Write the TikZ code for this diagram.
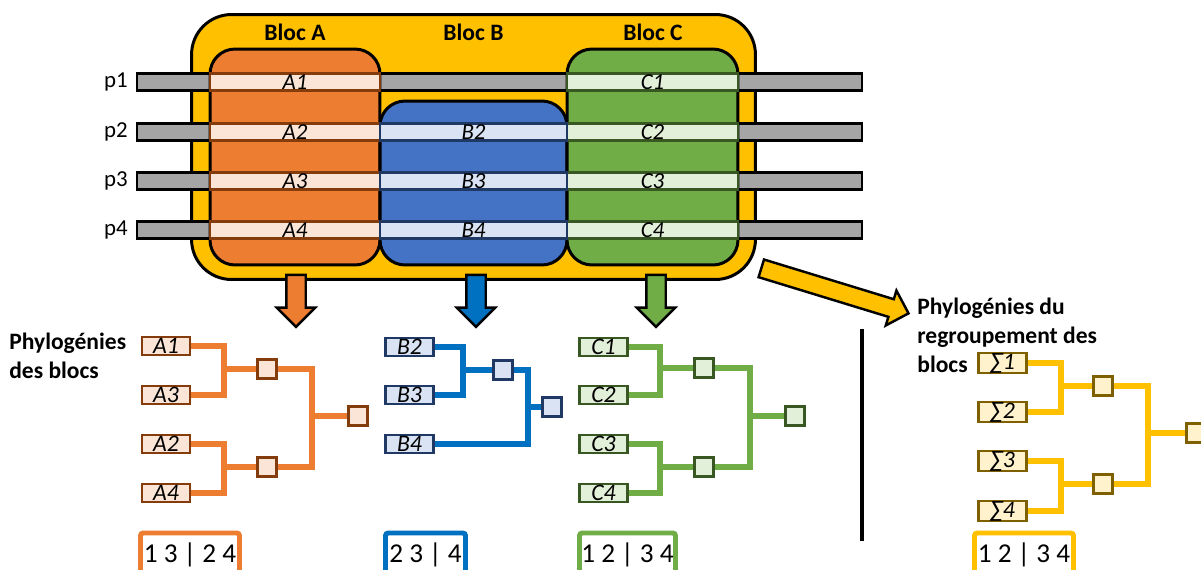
\documentclass[tikz,border=0pt]{standalone}
\usepackage{fontspec}
\setmainfont{Carlito}
\usepackage{tikz}
\usetikzlibrary{positioning,shapes.arrows}
\definecolor{yeS}{HTML}{FFC000}
\definecolor{yeL}{HTML}{FFF2CC}
\definecolor{yeD}{HTML}{7F6000}
\definecolor{orA}{HTML}{ED7D31}
\definecolor{orL}{HTML}{FBE5D6}
\definecolor{orD}{HTML}{843C0C}
\definecolor{blB}{HTML}{4472C4}
\definecolor{blT}{HTML}{0070C0}
\definecolor{blL}{HTML}{DAE3F3}
\definecolor{blD}{HTML}{203864}
\definecolor{grC}{HTML}{70AD47}
\definecolor{grL}{HTML}{E2F0D9}
\definecolor{grD}{HTML}{385723}
\definecolor{barG}{HTML}{A5A5A5}
\newcommand\lblfont{\fontsize{13.4}{16.5}\selectfont\bfseries}
\newcommand\cellfont{\fontsize{13}{13}\selectfont\itshape}
\newcommand\leaffont{\fontsize{13.5}{13.5}\selectfont\itshape}
\newcommand\numfont{\fontsize{15.5}{18}\selectfont}
\tikzset{
  outer/.style={draw=black,line width=1.7pt,fill=yeS,rounded corners=8mm,minimum width=112.8mm,minimum height=53mm,inner sep=0pt},
  bar/.style={draw=black,line width=1.2pt,fill=barG,minimum width=145.2mm,minimum height=3.4mm,inner sep=0pt},
  bloc/.style={draw=black,line width=1.7pt,fill=#1,rounded corners=5mm,minimum width=34mm,minimum height=43.2mm,inner sep=0pt},
  cell/.style 2 args={draw=#1,fill=#2,line width=1.2pt,minimum width=34mm,minimum height=3.4mm,inner sep=0pt,font=\cellfont},
  leaf/.style 2 args={draw=#1,fill=#2,line width=1.6pt,minimum width=9.6mm,minimum height=3.6mm,inner sep=0pt,font=\leaffont},
  knot/.style 2 args={draw=#1,fill=#2,line width=1.5pt,minimum size=3.8mm,inner sep=0pt},
  branch/.style={draw=#1,line width=3pt},
  result/.style={draw=#1,line width=2.8pt,fill=white,rounded corners=1.5pt,minimum height=8.8mm,inner sep=0pt,font=\numfont},
  darrow/.style={single arrow,draw=black,line width=1.4pt,fill=#1,minimum height=10.4mm,inner xsep=0pt,inner ysep=1.7mm,single arrow head extend=1.9mm,single arrow tip angle=90},
  lbl/.style={font=\lblfont,inner sep=0pt},
  plbl/.style={font=\fontsize{13}{14}\selectfont,inner sep=0pt},
  ttl/.style={font=\lblfont,inner sep=0pt,align=left,anchor=north west},
}
\begin{document}
\begin{tikzpicture}[x=0.02cm,y=-0.02cm]
  \useasboundingbox (0,0) rectangle (1201,569);
  % the three blocks on the alignment
  \node[outer] (grp) at (473.5,147) {};
  \foreach \i/\y in {1/82,2/132,3/181,4/230} {
    \node[bar] (bar\i) at (499.5,\y) {};
    \node[plbl,left=1.5mm of bar\i] (p\i) {p\i};
  }
  \node[bloc=orA] (blkA) at (295,157) {};
  \node[bloc=blB,minimum width=37.4mm,minimum height=32.8mm] (blkB) at (473.5,183) {};
  \node[bloc=grC,minimum width=34.2mm] (blkC) at (652.5,157) {};
  \foreach \i/\y in {1/82,2/132,3/181,4/230} {
    \node[cell={orD}{orL}] (A\i) at (295,\y) {A\i};
    \node[cell={grD}{grL},minimum width=34.2mm] (C\i) at (652.5,\y) {C\i};
  }
  \foreach \i/\y in {2/132,3/181,4/230}
    \node[cell={blD}{blL},minimum width=37.4mm] (B\i) at (473.5,\y) {B\i};
  \node[lbl] (hA) at (295,32) {Bloc A};
  \node[lbl] (hB) at (473.5,32) {Bloc B};
  \node[lbl] (hC) at (653,32) {Bloc C};

  % arrows down to the trees
  \node[darrow=orA,rotate=-90] (dA) at (296,296) {};
  \node[darrow=blT,rotate=-90] (dB) at (476,296) {};
  \node[darrow=grC,rotate=-90] (dC) at (656,296) {};
  \node[darrow=yeS,rotate=-17,minimum height=30.8mm,inner ysep=1.6mm,single arrow head extend=1.8mm] (dS) at (830.5,289.5) {};

  \node[ttl] (tl1) at (9,333) {Phylogénies\\des blocs};
  \node[ttl] (tl2) at (917,298) {Phylogénies du\\regroupement des\\blocs};
  \draw[line width=2.2pt] (862,329) -- (862,541);

  % tree of bloc A
  \foreach \n/\y in {A1/346,A3/395,A2/444,A4/493}
    \node[leaf={orD}{orL}] (t\n) at (166,\y) {\n};
  \node[knot={orD}{orL}] (kA1) at (267,369) {};
  \node[knot={orD}{orL}] (kA2) at (267,467) {};
  \node[knot={orD}{orL}] (kA3) at (358,416) {};
  \coordinate (jA1) at (224,369);
  \coordinate (jA2) at (224,467);
  \coordinate (jA3) at (312,416);
  \draw[branch=orA] (tA1.east) -| (jA1) |- (tA3.east);
  \draw[branch=orA] (tA2.east) -| (jA2) |- (tA4.east);
  \draw[branch=orA] (jA1) -- (kA1.west);
  \draw[branch=orA] (jA2) -- (kA2.west);
  \draw[branch=orA] (kA1.east) -| (jA3) |- (kA2.east);
  \draw[branch=orA] (jA3) -- (kA3.west);

  % tree of bloc B
  \foreach \n/\y in {B2/347,B3/395,B4/444}
    \node[leaf={blD}{blL}] (t\n) at (409.5,\y) {\n};
  \node[knot={blD}{blL}] (kB1) at (503,370) {};
  \node[knot={blD}{blL}] (kB2) at (552,407) {};
  \coordinate (jB1) at (463,370);
  \coordinate (jB2) at (528,407);
  \draw[branch=blT] (tB2.east) -| (jB1) |- (tB3.east);
  \draw[branch=blT] (jB1) -- (kB1.west);
  \draw[branch=blT] (kB1.east) -| (jB2) |- (tB4.east);
  \draw[branch=blT] (jB2) -- (kB2.west);

  % tree of bloc C
  \foreach \n/\y in {C1/347,C2/395,C3/444,C4/493}
    \node[leaf={grD}{grL}] (t\n) at (603.5,\y) {\n};
  \node[knot={grD}{grL}] (kC1) at (704,368) {};
  \node[knot={grD}{grL}] (kC2) at (704,467) {};
  \node[knot={grD}{grL}] (kC3) at (795,416) {};
  \coordinate (jC1) at (660,368);
  \coordinate (jC2) at (660,467);
  \coordinate (jC3) at (750,416);
  \draw[branch=grC] (tC1.east) -| (jC1) |- (tC2.east);
  \draw[branch=grC] (tC3.east) -| (jC2) |- (tC4.east);
  \draw[branch=grC] (jC1) -- (kC1.west);
  \draw[branch=grC] (jC2) -- (kC2.west);
  \draw[branch=grC] (kC1.east) -| (jC3) |- (kC2.east);
  \draw[branch=grC] (jC3) -- (kC3.west);

  % tree of the grouped blocs
  \foreach \i/\y in {1/363,2/412,3/461,4/511}
    \node[leaf={yeD}{yeL}] (tS\i) at (1002.5,\y) {∑\i};
  \node[knot={yeD}{yeL}] (kS1) at (1103,386) {};
  \node[knot={yeD}{yeL}] (kS2) at (1103,484) {};
  \node[knot={yeD}{yeL}] (kS3) at (1196,433) {};
  \coordinate (jS1) at (1061,386);
  \coordinate (jS2) at (1061,484);
  \coordinate (jS3) at (1148,433);
  \draw[branch=yeS] (tS1.east) -| (jS1) |- (tS2.east);
  \draw[branch=yeS] (tS3.east) -| (jS2) |- (tS4.east);
  \draw[branch=yeS] (jS1) -- (kS1.west);
  \draw[branch=yeS] (jS2) -- (kS2.west);
  \draw[branch=yeS] (kS1.east) -| (jS3) |- (kS2.east);
  \draw[branch=yeS] (jS3) -- (kS3.west);

  % splits
  \node[result=orA,minimum width=19.8mm] (rA) at (190,555) {1 3 | 2 4};
  \node[result=blT,minimum width=16mm] (rB) at (425.5,555) {2 3 | 4};
  \node[result=grC,minimum width=19.2mm] (rC) at (627.5,555) {1 2 | 3 4};
  \node[result=yeS,minimum width=19.8mm] (rS) at (1024,555) {1 2 | 3 4};
\end{tikzpicture}
\end{document}
